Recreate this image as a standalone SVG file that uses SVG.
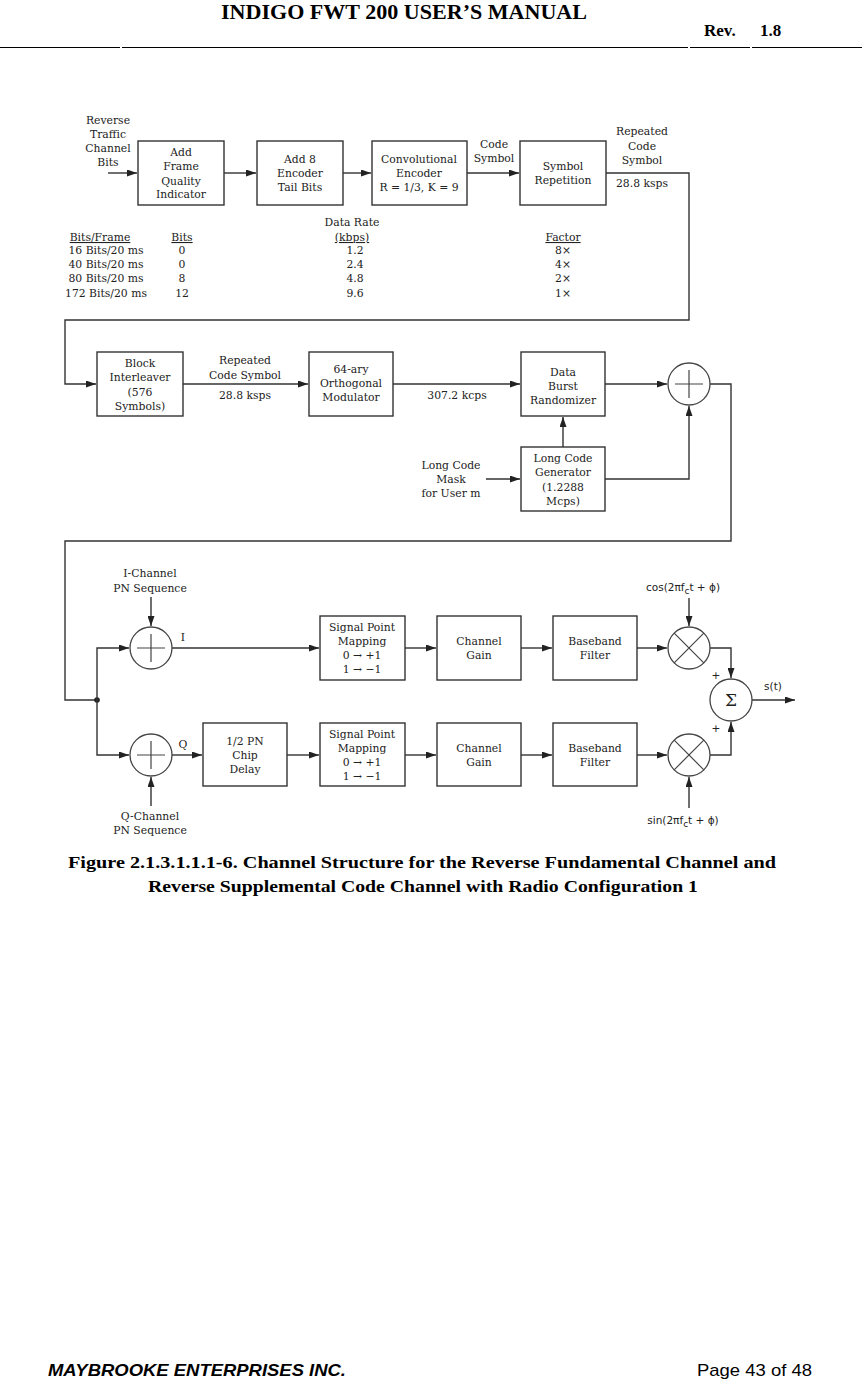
<svg xmlns="http://www.w3.org/2000/svg" width="862" height="1381" viewBox="0 0 862 1381">
<defs>
<marker id="ah" markerWidth="10" markerHeight="7" refX="10" refY="3.5" orient="auto" markerUnits="userSpaceOnUse">
<path d="M0,0 L10,3.5 L0,7 z" fill="#222"/>
</marker>
<style>
.t{font-family:"DejaVu Serif","Liberation Serif",serif;font-size:10.8px;fill:#222;text-anchor:middle}
.s{font-family:"DejaVu Sans","Liberation Sans",sans-serif;font-size:10.5px;fill:#222;text-anchor:middle}
.box{fill:#fff;stroke:#333;stroke-width:1.4}
.c{fill:#fff;stroke:#444;stroke-width:1.3}
.w{fill:none;stroke:#333;stroke-width:1.4}
.a{fill:none;stroke:#333;stroke-width:1.4;marker-end:url(#ah)}
.u{text-decoration:underline}
</style>
</defs>
<rect width="862" height="1381" fill="#fff"/>

<g id="header">
<text x="404" y="19" font-family="Liberation Serif,serif" font-weight="bold" font-size="21" text-anchor="middle" textLength="366" lengthAdjust="spacingAndGlyphs">INDIGO FWT 200 USER’S MANUAL</text>
<text x="704" y="36" font-family="Liberation Serif,serif" font-weight="bold" font-size="17">Rev.</text>
<text x="760" y="36" font-family="Liberation Serif,serif" font-weight="bold" font-size="17">1.8</text>
<path d="M0 47.5H120M122 47.5H688M690 47.5H750M752 47.5H862" stroke="#000" stroke-width="1.2"/>
</g>

<g id="connectors">
<path class="a" d="M108 173H137"/>
<path class="a" d="M224 173H256"/>
<path class="a" d="M343 173H371"/>
<path class="a" d="M467 173H519"/>
<path class="a" d="M606 173H689V320H65V384H96"/>
<path class="a" d="M183 384H308"/>
<path class="a" d="M393 384H520"/>
<path class="a" d="M605 384H667"/>
<path class="a" d="M563 447V417"/>
<path class="a" d="M486 479H520"/>
<path class="a" d="M605 479H689V406"/>
<path class="w" d="M710 384H731V541H65V700H97"/>
<circle cx="97" cy="700" r="2.8" fill="#222"/>
<path class="a" d="M97 700V648H129"/>
<path class="a" d="M97 700V755H129"/>
<path class="a" d="M151 597V626"/>
<path class="a" d="M151 806V777"/>
<path class="a" d="M172 648H319"/>
<path class="a" d="M405 648H436"/>
<path class="a" d="M521 648H552"/>
<path class="a" d="M637 648H667"/>
<path class="a" d="M689 598V626"/>
<path class="a" d="M710 648H731V678"/>
<path class="a" d="M172 755H202"/>
<path class="a" d="M287 755H319"/>
<path class="a" d="M405 755H436"/>
<path class="a" d="M521 755H552"/>
<path class="a" d="M637 755H667"/>
<path class="a" d="M689 808V777"/>
<path class="a" d="M710 755H731V722"/>
<path class="a" d="M752 700H795"/>
</g>

<g id="labels">
<text class="t" x="108" y="124">Reverse</text>
<text class="t" x="108" y="138">Traffic</text>
<text class="t" x="108" y="152">Channel</text>
<text class="t" x="108" y="166">Bits</text>
<text class="t" x="494" y="148">Code</text>
<text class="t" x="494" y="162">Symbol</text>
<text class="t" x="642" y="135">Repeated</text>
<text class="t" x="642" y="150">Code</text>
<text class="t" x="642" y="164">Symbol</text>
<text class="t" x="642" y="187">28.8 ksps</text>
<text class="t" x="245" y="364">Repeated</text>
<text class="t" x="245" y="379">Code Symbol</text>
<text class="t" x="245" y="399">28.8 ksps</text>
<text class="t" x="457" y="399">307.2 kcps</text>
<text class="t" x="451" y="469">Long Code</text>
<text class="t" x="451" y="483">Mask</text>
<text class="t" x="451" y="497">for User m</text>
<text class="t" x="150" y="577">I-Channel</text>
<text class="t" x="150" y="592">PN Sequence</text>
<text class="t" x="150" y="820">Q-Channel</text>
<text class="t" x="150" y="834">PN Sequence</text>
<text class="t" x="183" y="641">I</text>
<text class="t" x="183" y="748">Q</text>
<text class="s" x="683" y="591">cos(2πf<tspan dy="3" font-size="9">c</tspan><tspan dy="-3">t + ϕ)</tspan></text>
<text class="s" x="683" y="824">sin(2πf<tspan dy="3" font-size="9">c</tspan><tspan dy="-3">t + ϕ)</tspan></text>
<text class="s" x="716" y="679">+</text>
<text class="s" x="716" y="732">+</text>
<text class="s" x="773" y="690">s(t)</text>
</g>

<g id="table">
<text class="t" x="352" y="226">Data Rate</text>
<text class="t u" x="100" y="241">Bits/Frame</text>
<text class="t u" x="182" y="241">Bits</text>
<text class="t u" x="352" y="241">(kbps)</text>
<text class="t u" x="563" y="241">Factor</text>
<text class="t" x="106" y="254">16 Bits/20 ms</text>
<text class="t" x="106" y="268">40 Bits/20 ms</text>
<text class="t" x="106" y="282">80 Bits/20 ms</text>
<text class="t" x="106" y="297">172 Bits/20 ms</text>
<text class="t" x="182" y="254">0</text>
<text class="t" x="182" y="268">0</text>
<text class="t" x="182" y="282">8</text>
<text class="t" x="182" y="297">12</text>
<text class="t" x="355" y="254">1.2</text>
<text class="t" x="355" y="268">2.4</text>
<text class="t" x="355" y="282">4.8</text>
<text class="t" x="355" y="297">9.6</text>
<text class="t" x="563" y="254">8×</text>
<text class="t" x="563" y="268">4×</text>
<text class="t" x="563" y="282">2×</text>
<text class="t" x="563" y="297">1×</text>
</g>

<g id="n-fqi">
<rect class="box" x="138" y="141" width="86" height="64"/>
<text class="t" x="181" y="156">Add</text>
<text class="t" x="181" y="170">Frame</text>
<text class="t" x="181" y="185">Quality</text>
<text class="t" x="181" y="198">Indicator</text>
</g>
<g id="n-tail">
<rect class="box" x="257" y="141" width="86" height="64"/>
<text class="t" x="300" y="163">Add 8</text>
<text class="t" x="300" y="177">Encoder</text>
<text class="t" x="300" y="191">Tail Bits</text>
</g>
<g id="n-conv">
<rect class="box" x="372" y="141" width="95" height="64"/>
<text class="t" x="419" y="163">Convolutional</text>
<text class="t" x="419" y="177">Encoder</text>
<text class="t" x="419" y="191">R = 1/3, K = 9</text>
</g>
<g id="n-rep">
<rect class="box" x="520" y="141" width="86" height="64"/>
<text class="t" x="563" y="170">Symbol</text>
<text class="t" x="563" y="184">Repetition</text>
</g>

<g id="n-inter">
<rect class="box" x="97" y="352" width="86" height="64"/>
<text class="t" x="140" y="367">Block</text>
<text class="t" x="140" y="381">Interleaver</text>
<text class="t" x="140" y="396">(576</text>
<text class="t" x="140" y="410">Symbols)</text>
</g>
<g id="n-mod">
<rect class="box" x="309" y="352" width="84" height="64"/>
<text class="t" x="351" y="373">64-ary</text>
<text class="t" x="351" y="387">Orthogonal</text>
<text class="t" x="351" y="401">Modulator</text>
</g>
<g id="n-dbr">
<rect class="box" x="521" y="352" width="84" height="64"/>
<text class="t" x="563" y="376">Data</text>
<text class="t" x="563" y="390">Burst</text>
<text class="t" x="563" y="404">Randomizer</text>
</g>
<g id="n-lcg">
<rect class="box" x="521" y="447" width="84" height="64"/>
<text class="t" x="563" y="462">Long Code</text>
<text class="t" x="563" y="476">Generator</text>
<text class="t" x="563" y="491">(1.2288</text>
<text class="t" x="563" y="505">Mcps)</text>
</g>
<g id="n-add1">
<circle class="c" cx="689" cy="384" r="21"/>
<path d="M675 384H703M689 370V398" stroke="#444" stroke-width="1.2"/>
</g>

<g id="n-addI">
<circle class="c" cx="151" cy="648" r="21"/>
<path d="M137 648H165M151 634V662" stroke="#444" stroke-width="1.2"/>
</g>
<g id="n-addQ">
<circle class="c" cx="151" cy="755" r="21"/>
<path d="M137 755H165M151 741V769" stroke="#444" stroke-width="1.2"/>
</g>
<g id="n-delay">
<rect class="box" x="203" y="723" width="84" height="63"/>
<text class="t" x="245" y="745">1/2 PN</text>
<text class="t" x="245" y="759">Chip</text>
<text class="t" x="245" y="773">Delay</text>
</g>
<g id="n-spmI">
<rect class="box" x="320" y="616" width="85" height="64"/>
<text class="t" x="362" y="631">Signal Point</text>
<text class="t" x="362" y="645">Mapping</text>
<text class="t" x="362" y="659">0 → +1</text>
<text class="t" x="362" y="673">1 → −1</text>
</g>
<g id="n-spmQ">
<rect class="box" x="320" y="723" width="85" height="63"/>
<text class="t" x="362" y="738">Signal Point</text>
<text class="t" x="362" y="752">Mapping</text>
<text class="t" x="362" y="766">0 → +1</text>
<text class="t" x="362" y="780">1 → −1</text>
</g>
<g id="n-gainI">
<rect class="box" x="437" y="616" width="84" height="64"/>
<text class="t" x="479" y="645">Channel</text>
<text class="t" x="479" y="659">Gain</text>
</g>
<g id="n-gainQ">
<rect class="box" x="437" y="723" width="84" height="63"/>
<text class="t" x="479" y="752">Channel</text>
<text class="t" x="479" y="766">Gain</text>
</g>
<g id="n-bbfI">
<rect class="box" x="553" y="616" width="84" height="64"/>
<text class="t" x="595" y="645">Baseband</text>
<text class="t" x="595" y="659">Filter</text>
</g>
<g id="n-bbfQ">
<rect class="box" x="553" y="723" width="84" height="63"/>
<text class="t" x="595" y="752">Baseband</text>
<text class="t" x="595" y="766">Filter</text>
</g>
<g id="n-mulI">
<circle class="c" cx="689" cy="648" r="21"/>
<path d="M674.2 633.2L703.8 662.8M703.8 633.2L674.2 662.8" stroke="#444" stroke-width="1.2"/>
</g>
<g id="n-mulQ">
<circle class="c" cx="689" cy="755" r="21"/>
<path d="M674.2 740.2L703.8 769.8M703.8 740.2L674.2 769.8" stroke="#444" stroke-width="1.2"/>
</g>
<g id="n-sum">
<circle class="c" cx="731" cy="700" r="21"/>
<text x="731" y="706" font-family="DejaVu Serif,serif" font-size="17" fill="#222" text-anchor="middle">Σ</text>
</g>

<g id="caption">
<text x="422" y="868" font-family="Liberation Serif,serif" font-weight="bold" font-size="16" text-anchor="middle" textLength="708" lengthAdjust="spacingAndGlyphs">Figure 2.1.3.1.1.1-6. Channel Structure for the Reverse Fundamental Channel and</text>
<text x="423" y="892" font-family="Liberation Serif,serif" font-weight="bold" font-size="16" text-anchor="middle" textLength="550" lengthAdjust="spacingAndGlyphs">Reverse Supplemental Code Channel with Radio Configuration 1</text>
</g>

<g id="footer">
<text x="48" y="1376" font-family="Liberation Sans,Arial,sans-serif" font-weight="bold" font-style="italic" font-size="17" textLength="298" lengthAdjust="spacingAndGlyphs">MAYBROOKE ENTERPRISES INC.</text>
<text x="697" y="1376" font-family="Liberation Sans,Arial,sans-serif" font-size="17" textLength="115" lengthAdjust="spacingAndGlyphs">Page 43 of 48</text>
</g>
</svg>
